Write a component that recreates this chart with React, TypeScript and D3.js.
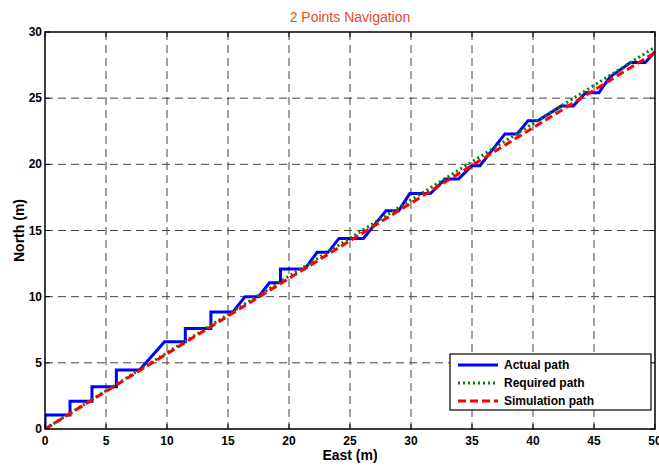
import * as d3 from "d3";
import React, { useRef, useEffect } from "react";

// actual path (staircase)
const actualEast = [0, 0, 2.05, 2.05, 3.85, 3.85, 5.85, 5.85, 7.75, 9.8, 11.5, 11.5, 13.6, 13.6, 15.4, 16.4, 17.5, 18.4, 19.3, 19.3, 21.3, 22.3, 23.2, 24.1, 26.1, 27.95, 29.0, 29.9, 31.6, 32.8, 33.9, 35.0, 35.65, 37.7, 38.7, 39.6, 40.4, 42.3, 43.3, 44.3, 45.4, 46.3, 48.0, 49.2, 50];
const actualNorth = [0, 1.05, 1.05, 2.1, 2.1, 3.2, 3.2, 4.45, 4.45, 6.6, 6.6, 7.6, 7.6, 8.85, 8.85, 10.0, 10.0, 11.05, 11.05, 12.1, 12.1, 13.35, 13.35, 14.4, 14.4, 16.5, 16.5, 17.8, 17.8, 18.9, 18.9, 19.9, 19.9, 22.3, 22.3, 23.3, 23.3, 24.4, 24.4, 25.4, 25.4, 26.6, 27.7, 27.7, 28.5];

const requiredEast = [0, 50];
const requiredNorth = [0, 28.85];

const simEast = [0, 50];
const simNorth = [0, 28.45];

const xTicks = [0, 5, 10, 15, 20, 25, 30, 35, 40, 45, 50];
const yTicks = [0, 5, 10, 15, 20, 25, 30];

const legendNames = ["Actual path", "Required path", "Simulation path"];

const App = () => {
  const ref = useRef(null);

  useEffect(() => {
    if (!ref.current) return;
    const svg = d3.select(ref.current);
    svg.selectAll("*").remove();

    const left = 45, right = 655, top = 32, bottom = 429;
    const font = "'Liberation Sans', Arial, Helvetica, sans-serif";

    const x = d3.scaleLinear().domain([0, 50]).range([left, right]);
    const y = d3.scaleLinear().domain([0, 30]).range([bottom, top]);

    svg.append("rect").attr("width", 659).attr("height", 466).attr("fill", "#fff");

    svg
      .append("defs")
      .append("clipPath")
      .attr("id", "plotclip")
      .append("rect")
      .attr("x", left)
      .attr("y", top)
      .attr("width", right - left)
      .attr("height", bottom - top);

    // grid
    const grid = svg.append("g");
    grid
      .selectAll(".gx")
      .data(xTicks.slice(1, -1))
      .enter()
      .append("line")
      .attr("x1", (d) => x(d))
      .attr("x2", (d) => x(d))
      .attr("y1", top)
      .attr("y2", bottom)
      .attr("stroke", "#444")
      .attr("stroke-width", 1)
      .attr("stroke-dasharray", "8,5");
    grid
      .selectAll(".gy")
      .data(yTicks.slice(1, -1))
      .enter()
      .append("line")
      .attr("y1", (d) => y(d))
      .attr("y2", (d) => y(d))
      .attr("x1", left)
      .attr("x2", right)
      .attr("stroke", "#444")
      .attr("stroke-width", 1)
      .attr("stroke-dasharray", "8,5");

    // ticks inside, all four sides
    const ticks = svg.append("g").attr("stroke", "#000").attr("stroke-width", 1);
    xTicks.forEach((t) => {
      ticks.append("line").attr("x1", x(t)).attr("x2", x(t)).attr("y1", bottom).attr("y2", bottom - 5);
      ticks.append("line").attr("x1", x(t)).attr("x2", x(t)).attr("y1", top).attr("y2", top + 5);
    });
    yTicks.forEach((t) => {
      ticks.append("line").attr("y1", y(t)).attr("y2", y(t)).attr("x1", left).attr("x2", left + 5);
      ticks.append("line").attr("y1", y(t)).attr("y2", y(t)).attr("x1", right).attr("x2", right - 5);
    });

    // tick labels
    svg
      .append("g")
      .selectAll("text")
      .data(xTicks)
      .enter()
      .append("text")
      .attr("x", (d) => x(d))
      .attr("y", bottom + 16)
      .attr("text-anchor", "middle")
      .style("font-family", font)
      .style("font-weight", "bold")
      .style("font-size", "12px")
      .text((d) => d);
    svg
      .append("g")
      .selectAll("text")
      .data(yTicks)
      .enter()
      .append("text")
      .attr("x", left - 3)
      .attr("y", (d) => y(d) + 4)
      .attr("text-anchor", "end")
      .style("font-family", font)
      .style("font-weight", "bold")
      .style("font-size", "12px")
      .text((d) => d);

    // series
    const line = d3
      .line<number>()
      .x((d) => x(d[0]))
      .y((d) => y(d[1]));

    const plot = svg.append("g").attr("clip-path", "url(#plotclip)");
    plot
      .append("path")
      .datum(actualEast.map((e, i) => [e, actualNorth[i]]))
      .attr("fill", "none")
      .attr("stroke", "#0000ff")
      .attr("stroke-width", 3)
      .attr("d", line);
    plot
      .append("path")
      .datum(requiredEast.map((e, i) => [e, requiredNorth[i]]))
      .attr("fill", "none")
      .attr("stroke", "#008000")
      .attr("stroke-width", 3)
      .attr("stroke-dasharray", "2,3")
      .attr("d", line);
    plot
      .append("path")
      .datum(simEast.map((e, i) => [e, simNorth[i]]))
      .attr("fill", "none")
      .attr("stroke", "#ff0000")
      .attr("stroke-width", 3)
      .attr("stroke-dasharray", "8,4")
      .attr("d", line);

    // frame
    svg
      .append("rect")
      .attr("x", left)
      .attr("y", top)
      .attr("width", right - left)
      .attr("height", bottom - top)
      .attr("fill", "none")
      .attr("stroke", "#000")
      .attr("stroke-width", 1.5);

    // legend
    const lg = svg.append("g");
    lg.append("rect")
      .attr("x", 450)
      .attr("y", 354)
      .attr("width", 201)
      .attr("height", 56)
      .attr("fill", "#fff")
      .attr("stroke", "#000")
      .attr("stroke-width", 1.2);
    const styles = [
      { color: "#0000ff", dash: null },
      { color: "#008000", dash: "2,3" },
      { color: "#ff0000", dash: "8,4" },
    ];
    legendNames.forEach((name, i) => {
      const ly = 365 + i * 18;
      lg.append("line")
        .attr("x1", 458)
        .attr("x2", 498)
        .attr("y1", ly)
        .attr("y2", ly)
        .attr("stroke", styles[i].color)
        .attr("stroke-width", 3)
        .attr("stroke-dasharray", styles[i].dash);
      lg.append("text")
        .attr("x", 504)
        .attr("y", ly + 4)
        .style("font-family", font)
        .style("font-weight", "bold")
        .style("font-size", "12px")
        .text(name);
    });

    // title and axis labels
    svg
      .append("text")
      .attr("x", 350)
      .attr("y", 22)
      .attr("text-anchor", "middle")
      .attr("fill", "#e5492e")
      .style("font-family", font)
      .style("font-size", "14px")
      .text("2 Points Navigation");
    svg
      .append("text")
      .attr("x", 350)
      .attr("y", 460)
      .attr("text-anchor", "middle")
      .style("font-family", font)
      .style("font-weight", "bold")
      .style("font-size", "14px")
      .text("East (m)");
    svg
      .append("text")
      .attr("transform", "translate(24," + (bottom + top) / 2 + ") rotate(-90)")
      .attr("text-anchor", "middle")
      .style("font-family", font)
      .style("font-weight", "bold")
      .style("font-size", "14px")
      .text("North (m)");
  }, []);

  return (
    <svg
      ref={ref}
      width={659}
      height={466}
      style={{ position: "absolute", left: 0, top: 0 }}
    />
  );
};

export default App;
